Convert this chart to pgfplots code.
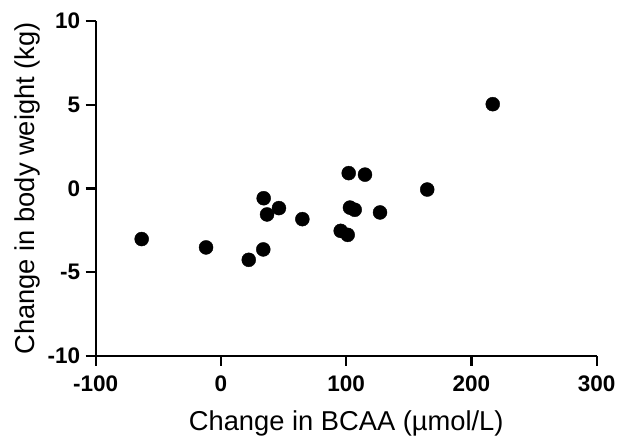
\documentclass[border=0pt]{standalone}
\usepackage{pgfplots}
\pgfplotsset{compat=1.18}
\usepackage{fontspec}
\setmainfont{Liberation Sans}
\begin{document}
\begin{tikzpicture}
\path[use as bounding box] (-95.7pt,-80.3pt) rectangle (524.3pt,355.7pt);
\begin{axis}[
  at={(0,0)}, anchor=south west,
  scale only axis, width=501pt, height=334.7pt,
  xmin=-100, xmax=300, ymin=-10, ymax=10,
  axis x line*=bottom, axis y line*=left,
  axis line style={line width=2.3pt, -},
  xtick={-100,0,100,200,300}, ytick={-10,-5,0,5,10},
  tick align=outside, major tick length=10pt,
  every tick/.style={line width=2.3pt, black},
  minor tick num=0,
  /pgf/number format/assume math mode=true,
  every tick label/.append style={font=\fontsize{22.5}{24}\selectfont\bfseries},
  xticklabel style={yshift=-7pt},
  yticklabel style={xshift=-2pt},
  label style={font=\fontsize{27.3}{30}\selectfont},
  xlabel={Change in BCAA (µmol/L)},
  ylabel={Change in body weight (kg)},
  xlabel style={at={(axis description cs:0.5,0)}, anchor=center, yshift=-68pt},
  ylabel style={at={(axis description cs:0,0.5)}, anchor=center, yshift=68pt},
  clip=false,
]
\addplot[only marks, mark=*, mark size=7pt, black] coordinates {
(-63.3,-3.03) (-11.9,-3.53) (22.2,-4.27) (33.8,-3.65) (34.1,-0.59)
(36.8,-1.56) (46.3,-1.18) (65.0,-1.84) (95.6,-2.54) (101.2,-2.78)
(102.0,0.91) (103.0,-1.15) (106.8,-1.28) (115.0,0.82) (127.0,-1.44)
(164.7,-0.07) (217.0,5.03)
};
\end{axis}
\end{tikzpicture}
\end{document}
